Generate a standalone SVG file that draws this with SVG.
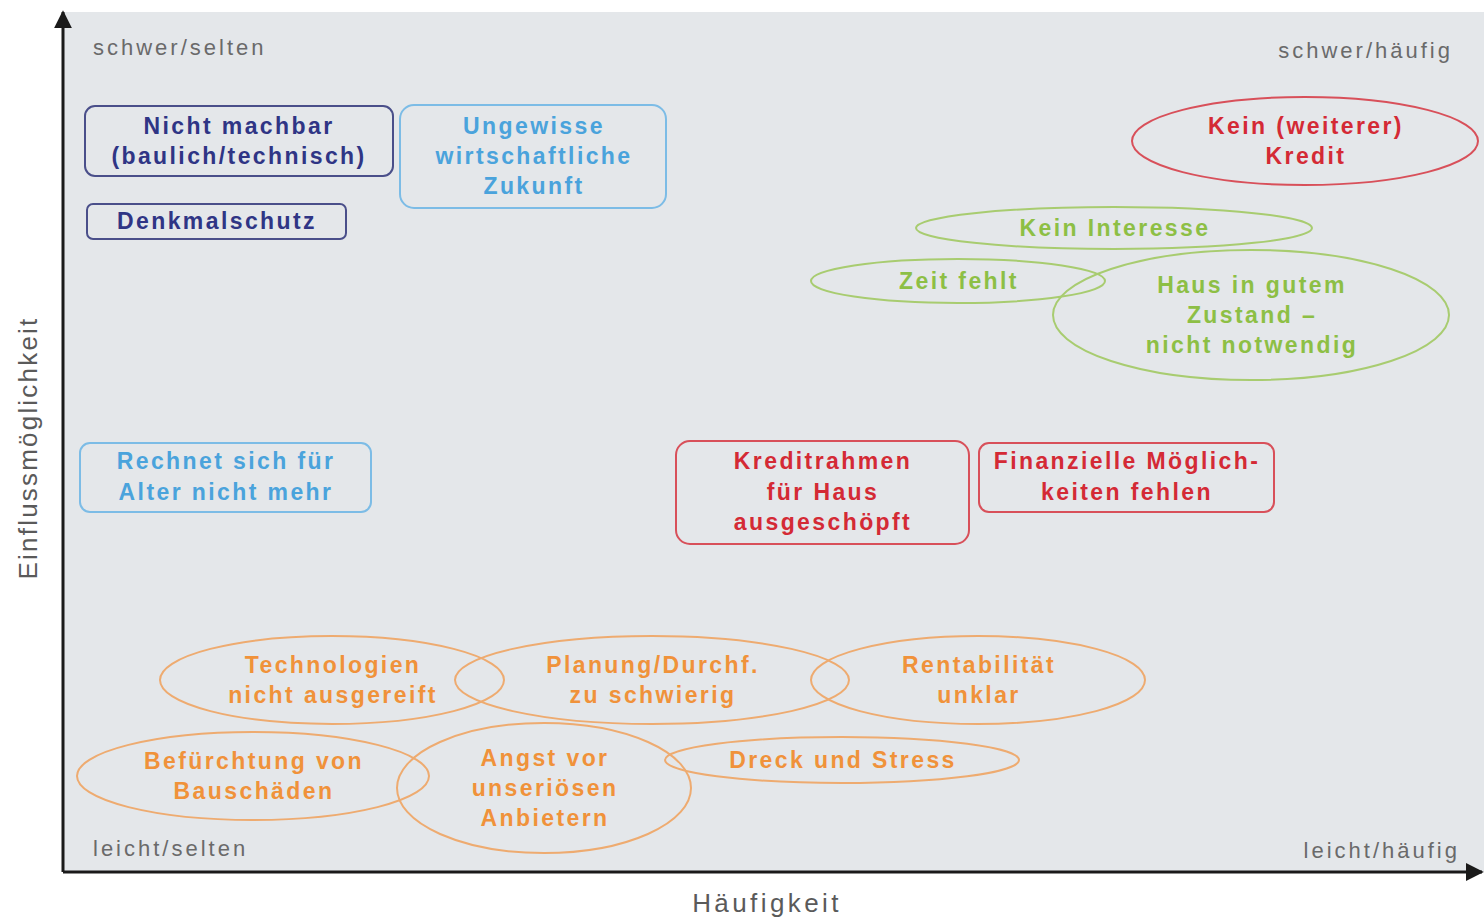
<svg xmlns="http://www.w3.org/2000/svg" width="1484" height="918" viewBox="0 0 1484 918">
<defs>
<marker id="arr" viewBox="0 0 10 10" refX="9" refY="5" markerWidth="6" markerHeight="6" markerUnits="strokeWidth" orient="auto"><path d="M0,0 L10,5 L0,10 z" fill="#1a1a1a"/></marker>
</defs>
<style>
.t{font-family:"Liberation Sans",Arial,sans-serif;font-weight:bold;font-size:23px;text-anchor:middle;letter-spacing:2.4px}
.c{font-family:"Liberation Sans",Arial,sans-serif;font-size:22px;fill:#6a6a6a;letter-spacing:3px}
.ax{font-family:"Liberation Sans",Arial,sans-serif;font-size:26px;fill:#5a5a5a;text-anchor:middle}
.db{fill:none;stroke:#4a4f8a;stroke-width:2}
.lb{fill:none;stroke:#7cbce6;stroke-width:2}
.rd{fill:none;stroke:#d8505a;stroke-width:2}
.gr{fill:none;stroke:#a8cc70;stroke-width:2}
.or{fill:none;stroke:#eeab70;stroke-width:2}
.tdb{fill:#2f3585}.tlb{fill:#4aa3dc}.trd{fill:#d42a35}.tgr{fill:#8dbf45}.tor{fill:#f0923a}
</style>
<rect x="63" y="12" width="1421" height="860" fill="#e4e7ea"/>
<g id="axes">
<line x1="63" y1="872" x2="63" y2="12" stroke="#1a1a1a" stroke-width="3" marker-end="url(#arr)"/>
<line x1="63" y1="872" x2="1482" y2="872" stroke="#1a1a1a" stroke-width="3" marker-end="url(#arr)"/>
</g>
<g id="labels">
<text class="c" x="93" y="55">schwer/selten</text>
<text class="c" x="1453" y="58" text-anchor="end">schwer/häufig</text>
<text class="c" x="93" y="856">leicht/selten</text>
<text class="c" x="1460" y="858" text-anchor="end">leicht/häufig</text>
<text class="ax" x="767" y="912" letter-spacing="3.4">Häufigkeit</text>
<text class="ax" transform="translate(37,448) rotate(-90)" letter-spacing="2.2">Einflussmöglichkeit</text>
</g>
<g id="n1"><rect class="db" x="85" y="106" width="308" height="70" rx="10"/><text class="t tdb" x="239" y="134">Nicht machbar</text><text class="t tdb" x="239" y="164">(baulich/technisch)</text></g>
<g id="n2"><rect class="db" x="87" y="204" width="259" height="35" rx="6"/><text class="t tdb" x="217" y="229">Denkmalschutz</text></g>
<g id="n3"><rect class="lb" x="400" y="105" width="266" height="103" rx="14"/><text class="t tlb" x="534" y="134">Ungewisse</text><text class="t tlb" x="534" y="164">wirtschaftliche</text><text class="t tlb" x="534" y="194">Zukunft</text></g>
<g id="n4"><ellipse class="rd" cx="1305" cy="141" rx="173" ry="44"/><text class="t trd" x="1306" y="134">Kein (weiterer)</text><text class="t trd" x="1306" y="164">Kredit</text></g>
<g id="n5"><ellipse class="gr" cx="1114" cy="228" rx="198" ry="21"/><text class="t tgr" x="1115" y="236">Kein Interesse</text></g>
<g id="n6"><ellipse class="gr" cx="958" cy="281" rx="147" ry="22"/><text class="t tgr" x="959" y="289">Zeit fehlt</text></g>
<g id="n7"><ellipse class="gr" cx="1251" cy="315" rx="198" ry="65"/><text class="t tgr" x="1252" y="293">Haus in gutem</text><text class="t tgr" x="1252" y="323">Zustand –</text><text class="t tgr" x="1252" y="353">nicht notwendig</text></g>
<g id="n8"><rect class="lb" x="80" y="443" width="291" height="69" rx="10"/><text class="t tlb" x="226" y="469">Rechnet sich für</text><text class="t tlb" x="226" y="500">Alter nicht mehr</text></g>
<g id="n9"><rect class="rd" x="676" y="441" width="293" height="103" rx="14"/><text class="t trd" x="823" y="469">Kreditrahmen</text><text class="t trd" x="823" y="500">für Haus</text><text class="t trd" x="823" y="530">ausgeschöpft</text></g>
<g id="n10"><rect class="rd" x="979" y="443" width="295" height="69" rx="10"/><text class="t trd" x="1127" y="469">Finanzielle Möglich-</text><text class="t trd" x="1127" y="500">keiten fehlen</text></g>
<g id="n11"><ellipse class="or" cx="332" cy="680" rx="172" ry="44"/><text class="t tor" x="333" y="673">Technologien</text><text class="t tor" x="333" y="703">nicht ausgereift</text></g>
<g id="n12"><ellipse class="or" cx="652" cy="680" rx="197" ry="44"/><text class="t tor" x="653" y="673">Planung/Durchf.</text><text class="t tor" x="653" y="703">zu schwierig</text></g>
<g id="n13"><ellipse class="or" cx="978" cy="680" rx="167" ry="44"/><text class="t tor" x="979" y="673">Rentabilität</text><text class="t tor" x="979" y="703">unklar</text></g>
<g id="n14"><ellipse class="or" cx="253" cy="776" rx="176" ry="44"/><text class="t tor" x="254" y="769">Befürchtung von</text><text class="t tor" x="254" y="799">Bauschäden</text></g>
<g id="n15"><ellipse class="or" cx="544" cy="788" rx="147" ry="65"/><text class="t tor" x="545" y="766">Angst vor</text><text class="t tor" x="545" y="796">unseriösen</text><text class="t tor" x="545" y="826">Anbietern</text></g>
<g id="n16"><ellipse class="or" cx="842" cy="760" rx="177" ry="23"/><text class="t tor" x="843" y="768">Dreck und Stress</text></g>
</svg>
